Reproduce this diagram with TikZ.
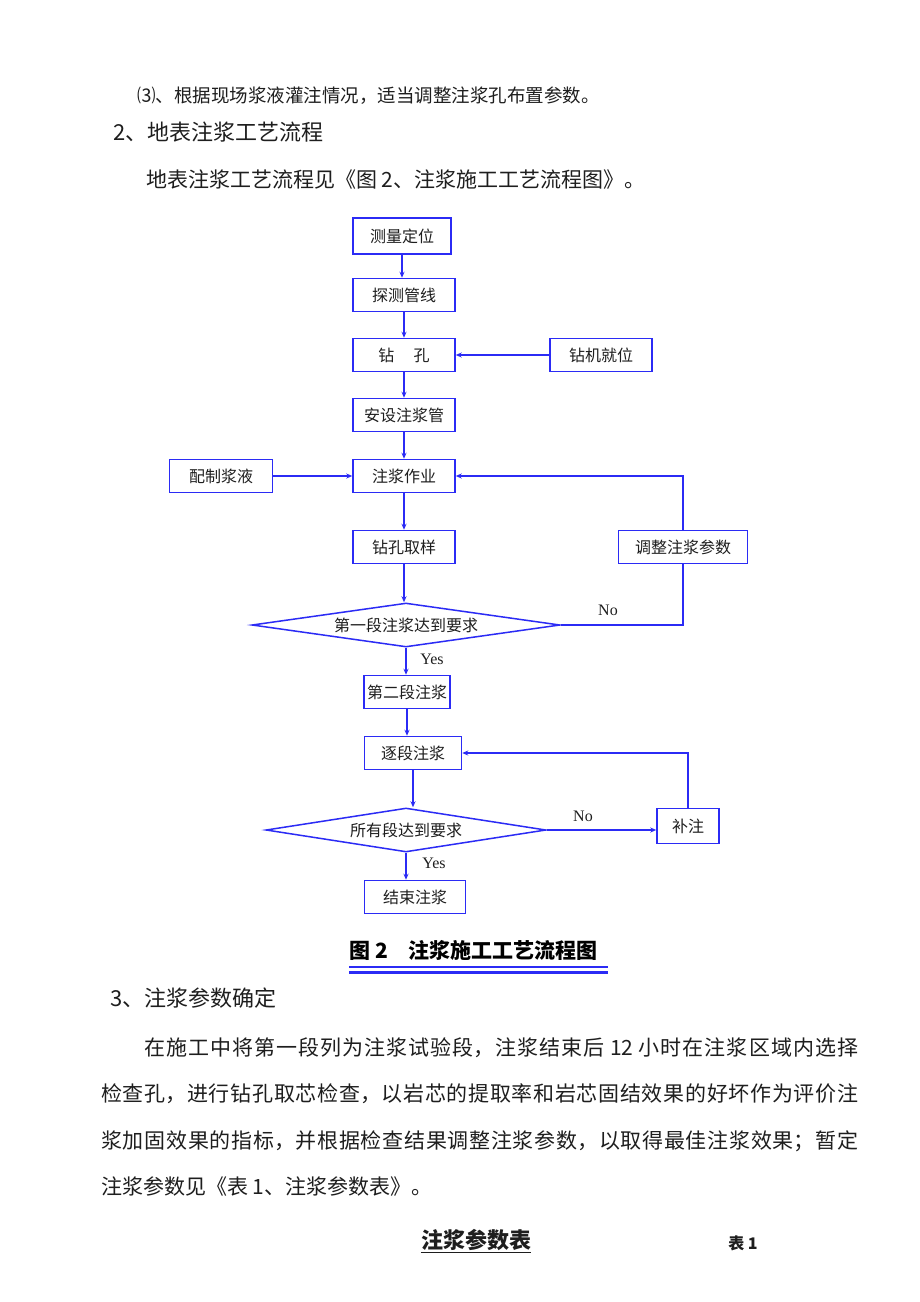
\documentclass[tikz,border=0pt]{standalone}
\usepackage{fontspec}
\setmainfont{Noto Sans CJK SC}
\newfontfamily\latinserif{Liberation Serif}
\usetikzlibrary{shapes.geometric,arrows.meta}
\XeTeXlinebreaklocale "zh"
\XeTeXlinebreakskip=0pt plus 4pt

\definecolor{fblue}{HTML}{2B2BF5}
\definecolor{ftext}{HTML}{1E1E1E}

\begin{document}
\begin{tikzpicture}[x=1pt,y=-1pt,
  stepbox/.style={draw=fblue,line width=1.5pt,inner sep=0pt,minimum width=102pt,minimum height=33pt,
    font=\fontsize{16}{18}\selectfont,text=ftext},
  check/.style={draw=fblue,line width=1.5pt,diamond,aspect=7,inner sep=0pt,minimum height=44pt,
    font=\fontsize{16}{18}\selectfont,text=ftext},
  flow/.style={draw=fblue,line width=1.5pt,-{Stealth[length=6pt,width=5pt]}},
  link/.style={draw=fblue,line width=1.5pt},
  yesno/.style={font=\latinserif\fontsize{16}{18}\selectfont,text=ftext,inner sep=0pt},
  para/.style={anchor=west,inner sep=0pt,text=ftext}]
  \fill[white] (0,0) rectangle (920,1302);
  \useasboundingbox (0,0) rectangle (920,1302);

  \node[para,font=\fontsize{18.5}{24}\selectfont] (item3) at (137,96) {⑶、根据现场浆液灌注情况，适当调整注浆孔布置参数。};
  \node[para,font=\fontsize{22}{26}\selectfont] (sec2) at (113,132) {2、地表注浆工艺流程};
  \node[para,font=\fontsize{21}{26}\selectfont] (intro) at (146,180) {地表注浆工艺流程见《图 2、注浆施工工艺流程图》。};

  \node[stepbox,minimum width=98pt,minimum height=36pt] (survey) at (402,236) {测量定位};
  \node[stepbox] (detect) at (404,295) {探测管线};
  \node[stepbox] (drill) at (404,355) {钻\hspace{1.2em}孔};
  \node[stepbox] (rig) at (601,355) {钻机就位};
  \node[stepbox] (pipe) at (404,415) {安设注浆管};
  \node[stepbox,minimum width=103pt] (mix) at (221,476) {配制浆液};
  \node[stepbox] (grout) at (404,476) {注浆作业};
  \node[stepbox] (sample) at (404,547) {钻孔取样};
  \node[stepbox,minimum width=129pt] (adjust) at (683,547) {调整注浆参数};
  \node[check,minimum width=308pt] (check1) at (406,625) {第一段注浆达到要求};
  \node[stepbox,minimum width=86pt] (second) at (407,692) {第二段注浆};
  \node[stepbox,minimum width=97pt] (stage) at (413,753) {逐段注浆};
  \node[check,minimum width=280pt] (check2) at (406,830) {所有段达到要求};
  \node[stepbox,minimum width=62pt,minimum height=35pt] (refill) at (688,826) {补注};
  \node[stepbox,minimum width=101pt] (finish) at (415,897) {结束注浆};

  \node[yesno] (no1) at (608,610) {No};
  \node[yesno] (yes1) at (432,659) {Yes};
  \node[yesno] (no2) at (583,816) {No};
  \node[yesno] (yes2) at (434,863) {Yes};

  \draw[flow] (survey.south) -- (survey.south |- detect.north);
  \draw[flow] (detect.south) -- (detect.south |- drill.north);
  \draw[flow] (drill.south) -- (drill.south |- pipe.north);
  \draw[flow] (pipe.south) -- (pipe.south |- grout.north);
  \draw[flow] (grout.south) -- (grout.south |- sample.north);
  \draw[flow] (sample.south) -- (sample.south |- check1.north);
  \draw[flow] (check1.south) -- (check1.south |- second.north);
  \draw[flow] (second.south) -- (second.south |- stage.north);
  \draw[flow] (stage.south) -- (stage.south |- check2.north);
  \draw[flow] (check2.south) -- (check2.south |- finish.north);
  \draw[flow] (rig.west) -- (drill.east);
  \draw[flow] (mix.east) -- (grout.west);
  \draw[flow] (adjust.north) |- (grout.east);
  \draw[link] (check1.east) -| (adjust.south);
  \draw[flow] (check2.east) -- (check2.east -| refill.west);
  \draw[flow] (refill.north) |- (stage.east);

  \node[anchor=west,inner sep=0pt,font=\bfseries\fontsize{21}{24}\selectfont] (caption) at (349,950) {图 2　注浆施工工艺流程图};
  \draw[fblue,line width=1.8pt] (349,967) -- (608,967);
  \draw[fblue,line width=3.5pt] (349,972.5) -- (608,972.5);

  \node[para,font=\fontsize{22}{26}\selectfont] (sec3) at (110,998) {3、注浆参数确定};
  \node[anchor=north west,inner sep=0pt,text width=757pt,align=justify,text=ftext,
    font=\fontsize{21}{46.5}\selectfont] (body) at (101,1037)
    {\hspace*{43pt}在施工中将第一段列为注浆试验段，注浆结束后 12 小时在注浆区域内选择\linebreak
     检查孔，进行钻孔取芯检查，以岩芯的提取率和岩芯固结效果的好坏作为评价注\linebreak
     浆加固效果的指标，并根据检查结果调整注浆参数，以取得最佳注浆效果；暂定\linebreak
     注浆参数见《表 1、注浆参数表》。};

  \node[inner sep=0pt,font=\bfseries\fontsize{22}{26}\selectfont,text=ftext] (tabtitle) at (476,1240) {注浆参数表};
  \draw[ftext,line width=1pt] ([yshift=-2pt]tabtitle.south west) -- ([yshift=-2pt]tabtitle.south east);
  \node[inner sep=0pt,font=\bfseries\fontsize{16}{18}\selectfont,text=ftext] (tabno) at (743,1243) {表 1};
\end{tikzpicture}
\end{document}
